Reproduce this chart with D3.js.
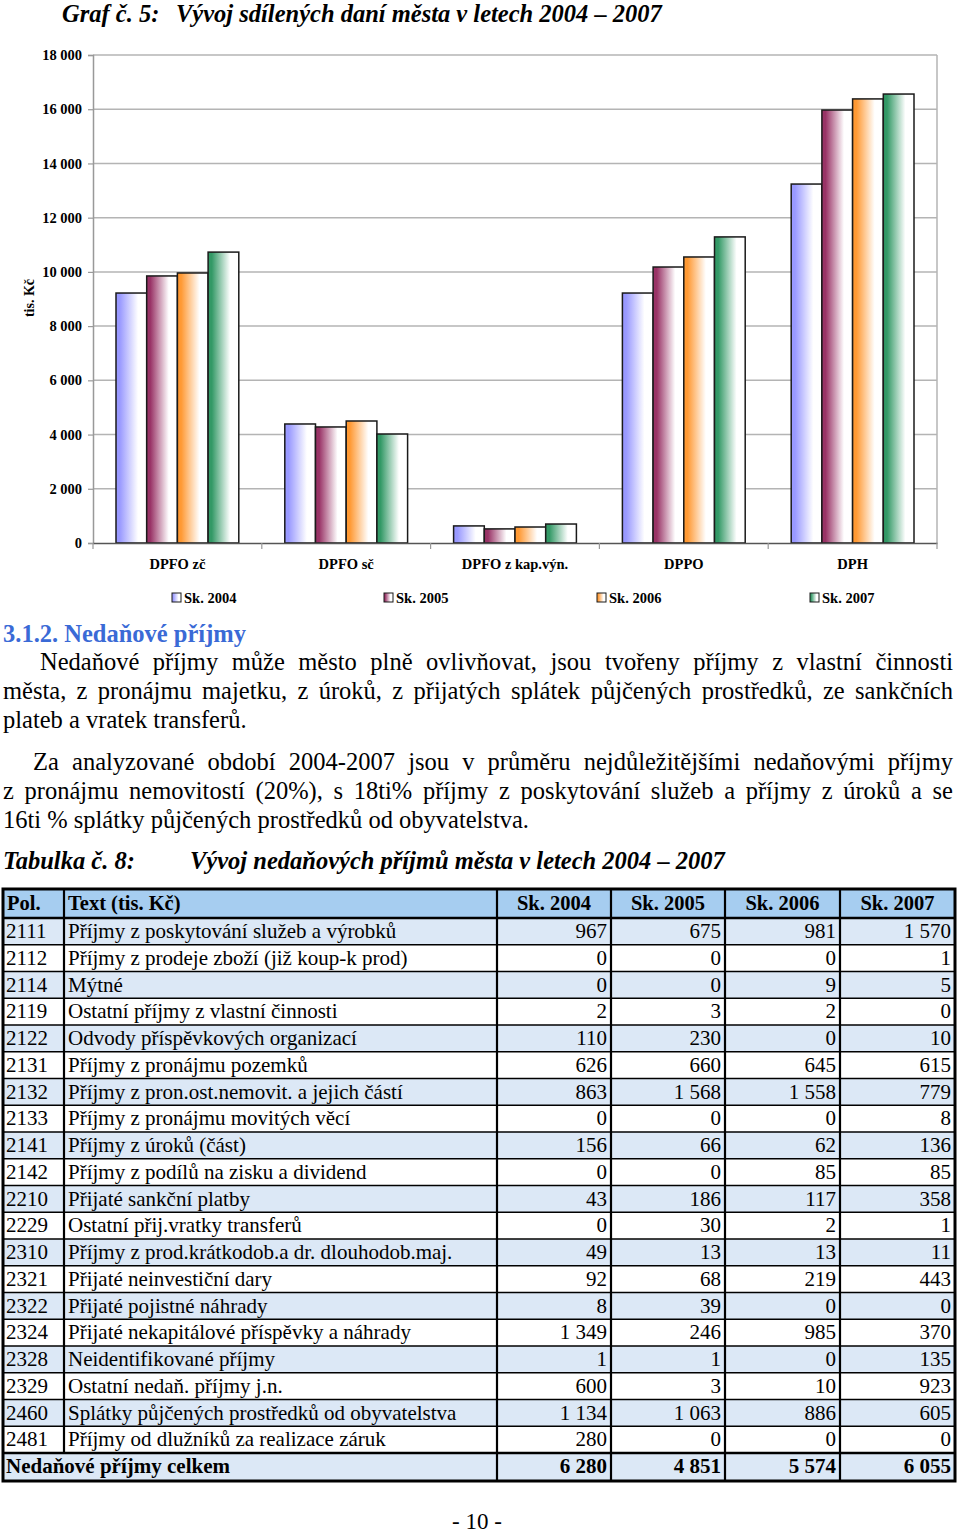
<!DOCTYPE html>
<html>
<head>
<meta charset="utf-8">
<script src="https://cdn.jsdelivr.net/npm/d3@7/dist/d3.min.js"></script>
<style>
  body { margin: 0; background: #fff; }
  svg { display: block; }
</style>
</head>
<body>
<svg id="page" width="960" height="1535"></svg>
<script>
// chart data (tis. Kč)
const categories = ["DPFO zč", "DPFO sč", "DPFO z kap.výn.", "DPPO", "DPH"];
const years = ["Sk. 2004", "Sk. 2005", "Sk. 2006", "Sk. 2007"];
const sk2004 = [9220, 4390, 630, 9220, 13240];
const sk2005 = [9850, 4280, 520, 10180, 15970];
const sk2006 = [9960, 4500, 590, 10550, 16380];
const sk2007 = [10730, 4020, 700, 11290, 16560];
const yTicks = [0, 2000, 4000, 6000, 8000, 10000, 12000, 14000, 16000, 18000];
const colors = ["#9999ff", "#993366", "#ff9933", "#339966"];

// table data
const polCodes = ["2111", "2112", "2114", "2119", "2122", "2131", "2132", "2133", "2141", "2142",
  "2210", "2229", "2310", "2321", "2322", "2324", "2328", "2329", "2460", "2481"];
const polTexts = [
  "Příjmy z poskytování služeb a výrobků",
  "Příjmy z prodeje zboží (již koup-k prod)",
  "Mýtné",
  "Ostatní příjmy z vlastní činnosti",
  "Odvody příspěvkových organizací",
  "Příjmy z pronájmu pozemků",
  "Příjmy z pron.ost.nemovit. a jejich částí",
  "Příjmy z pronájmu movitých věcí",
  "Příjmy z úroků (část)",
  "Příjmy z podílů na zisku a dividend",
  "Přijaté sankční platby",
  "Ostatní přij.vratky transferů",
  "Příjmy z prod.krátkodob.a dr. dlouhodob.maj.",
  "Přijaté neinvestiční dary",
  "Přijaté pojistné náhrady",
  "Přijaté nekapitálové příspěvky a náhrady",
  "Neidentifikované příjmy",
  "Ostatní nedaň. příjmy j.n.",
  "Splátky půjčených prostředků od obyvatelstva",
  "Příjmy od dlužníků za realizace záruk"];
const t2004 = [967, 0, 0, 2, 110, 626, 863, 0, 156, 0, 43, 0, 49, 92, 8, 1349, 1, 600, 1134, 280];
const t2005 = [675, 0, 0, 3, 230, 660, 1568, 0, 66, 0, 186, 30, 13, 68, 39, 246, 1, 3, 1063, 0];
const t2006 = [981, 0, 9, 2, 0, 645, 1558, 0, 62, 85, 117, 2, 13, 219, 0, 985, 0, 10, 886, 0];
const t2007 = [1570, 1, 5, 0, 10, 615, 779, 8, 136, 85, 358, 1, 11, 443, 0, 370, 135, 923, 605, 0];

const serif = "'Liberation Serif', 'Times New Roman', serif";
const svg = d3.select("#page").style("font-family", serif);
const series = [sk2004, sk2005, sk2006, sk2007];

// gradients
const defs = svg.append("defs");
colors.forEach((c, i) => {
  const g = defs.append("linearGradient").attr("id", "grad" + i)
    .attr("x1", "0%").attr("x2", "100%").attr("y1", "0%").attr("y2", "0%");
  g.append("stop").attr("offset", "0%").attr("stop-color", c);
  g.append("stop").attr("offset", "12%").attr("stop-color", c);
  g.append("stop").attr("offset", "72%").attr("stop-color", "#ffffff");
  g.append("stop").attr("offset", "100%").attr("stop-color", "#ffffff");
});

// title
svg.append("text").attr("x", 62).attr("y", 22)
  .attr("font-size", 24.5).attr("font-weight", "bold").attr("font-style", "italic")
  .text("Graf č. 5:");
svg.append("text").attr("x", 176).attr("y", 22)
  .attr("font-size", 24.5).attr("font-weight", "bold").attr("font-style", "italic")
  .text("Vývoj sdílených daní města v letech 2004 – 2007");

// scales
const x0 = d3.scaleBand().domain(categories).range([93, 937]);
const x1 = d3.scaleBand().domain(years).range([23, x0.bandwidth() - 23]);
const y = d3.scaleLinear().domain([0, 18000]).range([543, 55]);

// grid
svg.append("g").selectAll("line").data(yTicks.slice(1)).join("line")
  .attr("x1", 93).attr("x2", 937)
  .attr("y1", d => y(d)).attr("y2", d => y(d))
  .attr("stroke", "#b4b4b4").attr("stroke-width", 1.5);
svg.append("line").attr("x1", 937).attr("x2", 937).attr("y1", y(18000)).attr("y2", y(0))
  .attr("stroke", "#b4b4b4").attr("stroke-width", 1.5);

// y axis
const yAxis = svg.append("g").attr("transform", "translate(93,0)")
  .call(d3.axisLeft(y).tickValues(yTicks).tickSize(5).tickPadding(6)
    .tickFormat(d => d3.format(",")(d).replace(/,/g, " ")));
yAxis.select(".domain").attr("stroke", "#999").attr("stroke-width", 1.5);
yAxis.selectAll(".tick line").attr("stroke", "#999").attr("stroke-width", 1.2);
yAxis.selectAll(".tick text").attr("font-family", serif).attr("font-size", 14.5)
  .attr("font-weight", "bold").attr("fill", "#000");

svg.append("text")
  .attr("transform", "translate(34,298) rotate(-90)")
  .attr("text-anchor", "middle").attr("font-size", 14).attr("font-weight", "bold")
  .text("tis. Kč");

// bars
const groups = svg.append("g").selectAll("g").data(categories).join("g")
  .attr("transform", d => `translate(${x0(d)},0)`);
groups.selectAll("rect")
  .data((c, ci) => years.map((yr, si) => ({ yr, si, v: series[si][ci] })))
  .join("rect")
  .attr("x", d => x1(d.yr))
  .attr("width", x1.bandwidth())
  .attr("y", d => y(d.v))
  .attr("height", d => y(0) - y(d.v))
  .attr("fill", d => `url(#grad${d.si})`)
  .attr("stroke", "#1a1a1a").attr("stroke-width", 1.5);

// x axis
const xAxis = svg.append("g").attr("transform", "translate(0,543)")
  .call(d3.axisBottom(x0).tickSize(0).tickPadding(16));
xAxis.select(".domain").attr("stroke", "#555").attr("stroke-width", 1.5);
xAxis.selectAll(".tick text").attr("font-family", serif).attr("font-size", 14.5)
  .attr("font-weight", "bold").attr("fill", "#000");
svg.append("g").selectAll("line").data(categories.concat(["_end"])).join("line")
  .attr("x1", d => d === "_end" ? 937 : x0(d)).attr("x2", d => d === "_end" ? 937 : x0(d))
  .attr("y1", 543).attr("y2", 549).attr("stroke", "#999").attr("stroke-width", 1.2);

// legend
const legendX = [172, 384, 597, 810];
const legend = svg.append("g").selectAll("g").data(years).join("g")
  .attr("transform", (d, i) => `translate(${legendX[i]},593)`);
legend.append("rect").attr("width", 9).attr("height", 9)
  .attr("fill", (d, i) => `url(#grad${i})`).attr("stroke", "#1a1a1a").attr("stroke-width", 1);
legend.append("text").attr("x", 12).attr("y", 10)
  .attr("font-size", 14.5).attr("font-weight", "bold").text(d => d);

// heading and paragraphs
svg.append("text").attr("x", 3).attr("y", 642)
  .attr("font-size", 24.5).attr("font-weight", "bold").attr("fill", "#3a6ad6")
  .text("3.1.2. Nedaňové příjmy");

const lines = [
  { t: "Nedaňové příjmy může město plně ovlivňovat, jsou tvořeny příjmy z vlastní činnosti", x: 40, y: 670, j: true },
  { t: "města, z pronájmu majetku, z úroků, z přijatých splátek půjčených prostředků, ze sankčních", x: 3, y: 699, j: true },
  { t: "plateb a vratek transferů.", x: 3, y: 728, j: false },
  { t: "Za analyzované období 2004-2007 jsou v průměru nejdůležitějšími nedaňovými příjmy", x: 33, y: 770, j: true },
  { t: "z pronájmu nemovitostí (20%), s 18ti% příjmy z poskytování služeb a příjmy z úroků a se", x: 3, y: 799, j: true },
  { t: "16ti % splátky půjčených prostředků od obyvatelstva.", x: 3, y: 828, j: false }
];
svg.append("g").selectAll("text").data(lines).join("text")
  .attr("x", d => d.x).attr("y", d => d.y).attr("font-size", 24.5)
  .text(d => d.t)
  .each(function (d) {
    if (!d.j) return;
    const w = this.getComputedTextLength();
    const spaces = (d.t.match(/ /g) || []).length;
    d3.select(this).attr("word-spacing", (953 - d.x - w) / spaces);
  });

svg.append("text").attr("x", 3).attr("y", 869)
  .attr("font-size", 24.5).attr("font-weight", "bold").attr("font-style", "italic")
  .text("Tabulka č. 8:");
svg.append("text").attr("x", 190).attr("y", 869)
  .attr("font-size", 24.5).attr("font-weight", "bold").attr("font-style", "italic")
  .text("Vývoj nedaňových příjmů města v letech 2004 – 2007");

// table
const colEdges = [3, 64, 497, 611, 725, 840, 955];
const tTop = 889, headH = 29, rowH = 26.75;
const rowTop = i => tTop + headH + i * rowH;
const totalTop = rowTop(polCodes.length);
const tBottom = totalTop + 28;
const fmt = d3.formatLocale({ thousands: "\u00a0", grouping: [3], decimal: "," }).format(",");
const tableVals = [t2004, t2005, t2006, t2007];
const totals = tableVals.map(a => d3.sum(a));

const tbl = svg.append("g").attr("font-size", 21);
// backgrounds
tbl.append("rect").attr("x", colEdges[0]).attr("y", tTop).attr("width", colEdges[6] - colEdges[0])
  .attr("height", headH).attr("fill", "#a6cdf0");
tbl.append("g").selectAll("rect").data(polCodes).join("rect")
  .attr("x", colEdges[0]).attr("y", (d, i) => rowTop(i))
  .attr("width", colEdges[6] - colEdges[0]).attr("height", rowH)
  .attr("fill", (d, i) => i % 2 === 0 ? "#dce8f6" : "#ffffff");
tbl.append("rect").attr("x", colEdges[0]).attr("y", totalTop).attr("width", colEdges[6] - colEdges[0])
  .attr("height", tBottom - totalTop).attr("fill", "#dce8f6");

// header text
const head = tbl.append("g").attr("font-weight", "bold").attr("font-size", 20.5);
head.append("text").attr("x", 7).attr("y", tTop + 21).text("Pol.");
head.append("text").attr("x", 68).attr("y", tTop + 21).text("Text (tis. Kč)");
head.selectAll(".yh").data(years).join("text").attr("class", "yh")
  .attr("x", (d, i) => (colEdges[i + 2] + colEdges[i + 3]) / 2).attr("y", tTop + 21)
  .attr("text-anchor", "middle").text(d => d);

// rows
const rows = tbl.append("g").selectAll("g").data(polCodes).join("g")
  .attr("transform", (d, i) => `translate(0,${rowTop(i) + 20})`);
rows.append("text").attr("x", 6).text(d => d);
rows.append("text").attr("x", 68).text((d, i) => polTexts[i]);
rows.each(function (d, i) {
  d3.select(this).selectAll(".v").data(tableVals.map(a => a[i])).join("text").attr("class", "v")
    .attr("x", (v, k) => colEdges[k + 3] - 4).attr("text-anchor", "end").text(v => fmt(v));
});
const tot = tbl.append("g").attr("font-weight", "bold")
  .attr("transform", `translate(0,${totalTop + 20})`);
tot.append("text").attr("x", 6).text("Nedaňové příjmy celkem");
tot.selectAll(".v").data(totals).join("text").attr("class", "v")
  .attr("x", (v, k) => colEdges[k + 3] - 4).attr("text-anchor", "end").text(v => fmt(v));

// grid lines
const hLines = [tTop + headH].concat(polCodes.map((d, i) => rowTop(i + 1)));
tbl.append("g").selectAll("line").data(hLines).join("line")
  .attr("x1", colEdges[0]).attr("x2", colEdges[6]).attr("y1", d => d).attr("y2", d => d)
  .attr("stroke", "#000").attr("stroke-width", (d, i) => i === 0 || i === hLines.length - 1 ? 2.5 : 1.6);
tbl.append("g").selectAll("line").data(colEdges.slice(1, 6)).join("line")
  .attr("x1", d => d).attr("x2", d => d)
  .attr("y1", tTop).attr("y2", (d, i) => i === 0 ? totalTop : tBottom)
  .attr("stroke", "#000").attr("stroke-width", 2.2);
tbl.append("rect").attr("x", colEdges[0]).attr("y", tTop)
  .attr("width", colEdges[6] - colEdges[0]).attr("height", tBottom - tTop)
  .attr("fill", "none").attr("stroke", "#000").attr("stroke-width", 3);

// page number
svg.append("text").attr("x", 477).attr("y", 1529).attr("text-anchor", "middle")
  .attr("font-size", 23).text("- 10 -");
</script>
</body>
</html>
